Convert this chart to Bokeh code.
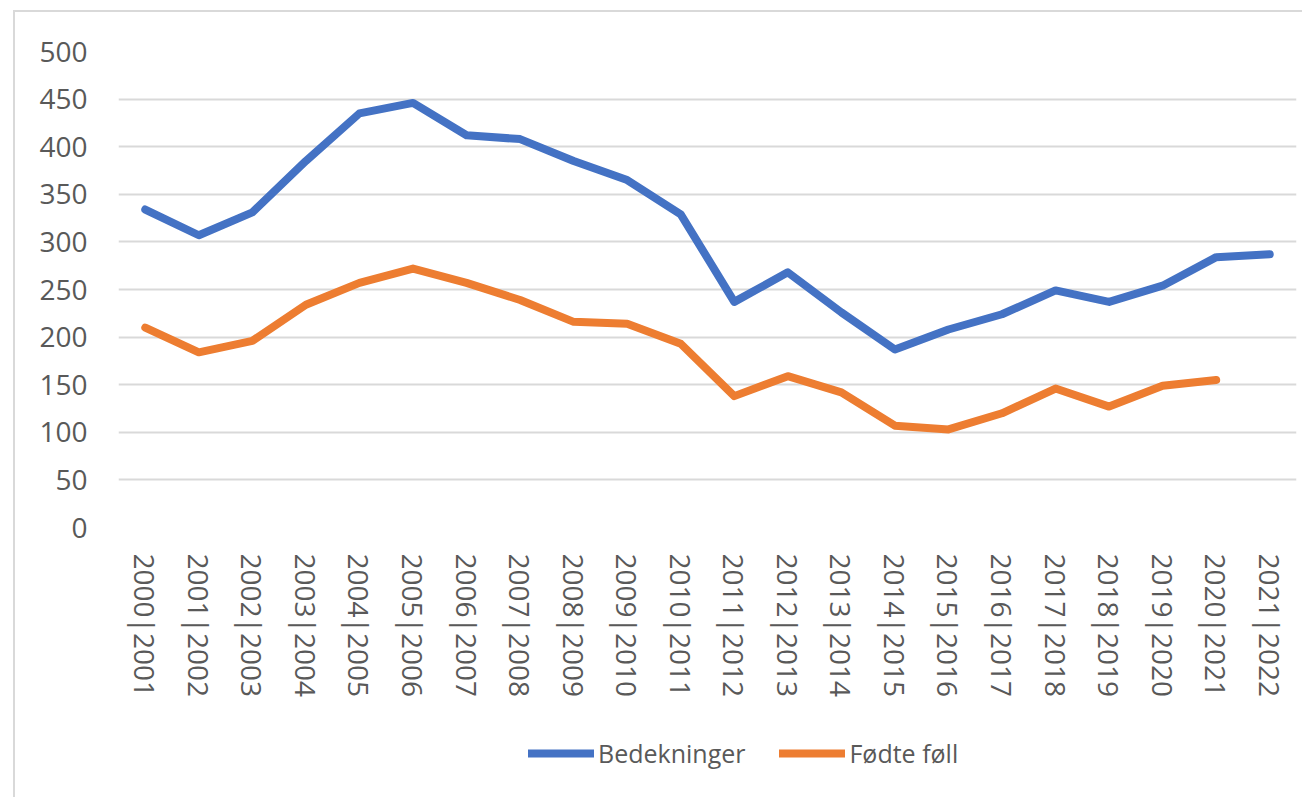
from bokeh.plotting import figure
from bokeh.layouts import column
from bokeh.models import Range1d, FixedTicker, Legend, LegendItem, ColumnDataSource
from bokeh.embed import file_html
from bokeh.resources import INLINE

categories = ["2000|2001", "2001|2002", "2002|2003", "2003|2004", "2004|2005", "2005|2006",
              "2006|2007", "2007|2008", "2008|2009", "2009|2010", "2010|2011", "2011|2012",
              "2012|2013", "2013|2014", "2014|2015", "2015|2016", "2016|2017", "2017|2018",
              "2018|2019", "2019|2020", "2020|2021", "2021|2022"]
bedekninger = [334, 307, 331, 385, 435, 446, 412, 408, 385, 365, 329, 237,
               268, 226, 187, 208, 224, 249, 237, 254, 284, 287]
fodte_foll = [210, 184, 196, 234, 257, 272, 257, 239, 216, 214, 193, 138,
              159, 142, 107, 103, 120, 146, 127, 149, 155, float("nan")]
y_ticks = [0, 50, 100, 150, 200, 250, 300, 350, 400, 450, 500]

FONT = "Open Sans"
TXT = "#595959"
GRID = "#d9d9d9"
BLUE = "#4472C4"
ORANGE = "#ED7D31"

src = ColumnDataSource(dict(cat=categories, b=bedekninger, f=fodte_foll))

p = figure(x_range=categories, y_range=Range1d(0, 500),
           frame_width=1176, frame_height=474,
           output_backend="svg", toolbar_location=None,
           min_border_left=103, min_border_right=8, min_border_top=39, min_border_bottom=0,
           margin=(10, 0, 0, 13))
p.styles = {"border-left": "2px solid #d9d9d9", "border-top": "2px solid #d9d9d9"}
p.outline_line_color = None
p.background_fill_color = "white"
p.border_fill_color = "white"

p.xgrid.grid_line_color = None
p.ygrid.grid_line_color = GRID
p.ygrid.grid_line_width = 2
p.yaxis.ticker = FixedTicker(ticks=y_ticks)

for ax in (p.xaxis[0], p.yaxis[0]):
    ax.axis_line_color = None
    ax.major_tick_line_color = None
    ax.minor_tick_line_color = None
    ax.major_label_text_font = FONT
    ax.major_label_text_color = TXT
p.yaxis.major_label_text_font_size = "28px"
p.xaxis.major_label_text_font_size = "28px"
p.yaxis.major_label_standoff = 25
p.xaxis.major_label_orientation = "vertical"
p.xaxis.major_label_standoff = 20

p.line("cat", "b", source=src, line_color=BLUE, line_width=8,
       line_join="round", line_cap="round")
p.line("cat", "f", source=src, line_color=ORANGE, line_width=8,
       line_join="round", line_cap="round")

# Legend strip below the chart (same series, drawn outside its visible range)
leg = figure(x_range=p.x_range, y_range=Range1d(1000, 1100), width=1287, height=100,
             output_backend="svg", toolbar_location=None,
             x_axis_location=None, y_axis_location=None,
             min_border=0, margin=(0, 0, 0, 13))
leg.styles = {"border-left": "2px solid #d9d9d9"}
leg.outline_line_color = None
leg.grid.visible = False
leg.background_fill_color = "white"
leg.border_fill_color = "white"
lr1 = leg.line("cat", "b", source=src, line_color=BLUE, line_width=8, line_cap="round")
lr2 = leg.line("cat", "f", source=src, line_color=ORANGE, line_width=8, line_cap="round")

legend = Legend(items=[LegendItem(label="Bedekninger", renderers=[lr1]),
                       LegendItem(label="Fødte føll", renderers=[lr2])],
                orientation="horizontal", location=(410, 27),
                label_text_font=FONT, label_text_font_size="25px", label_text_color=TXT,
                glyph_width=66, glyph_height=20, label_standoff=4, spacing=34,
                border_line_color=None, background_fill_alpha=0,
                margin=0, padding=2)
leg.add_layout(legend, "center")

layout = column(p, leg, spacing=0)
open("out.html", "w").write(file_html(layout, INLINE))
